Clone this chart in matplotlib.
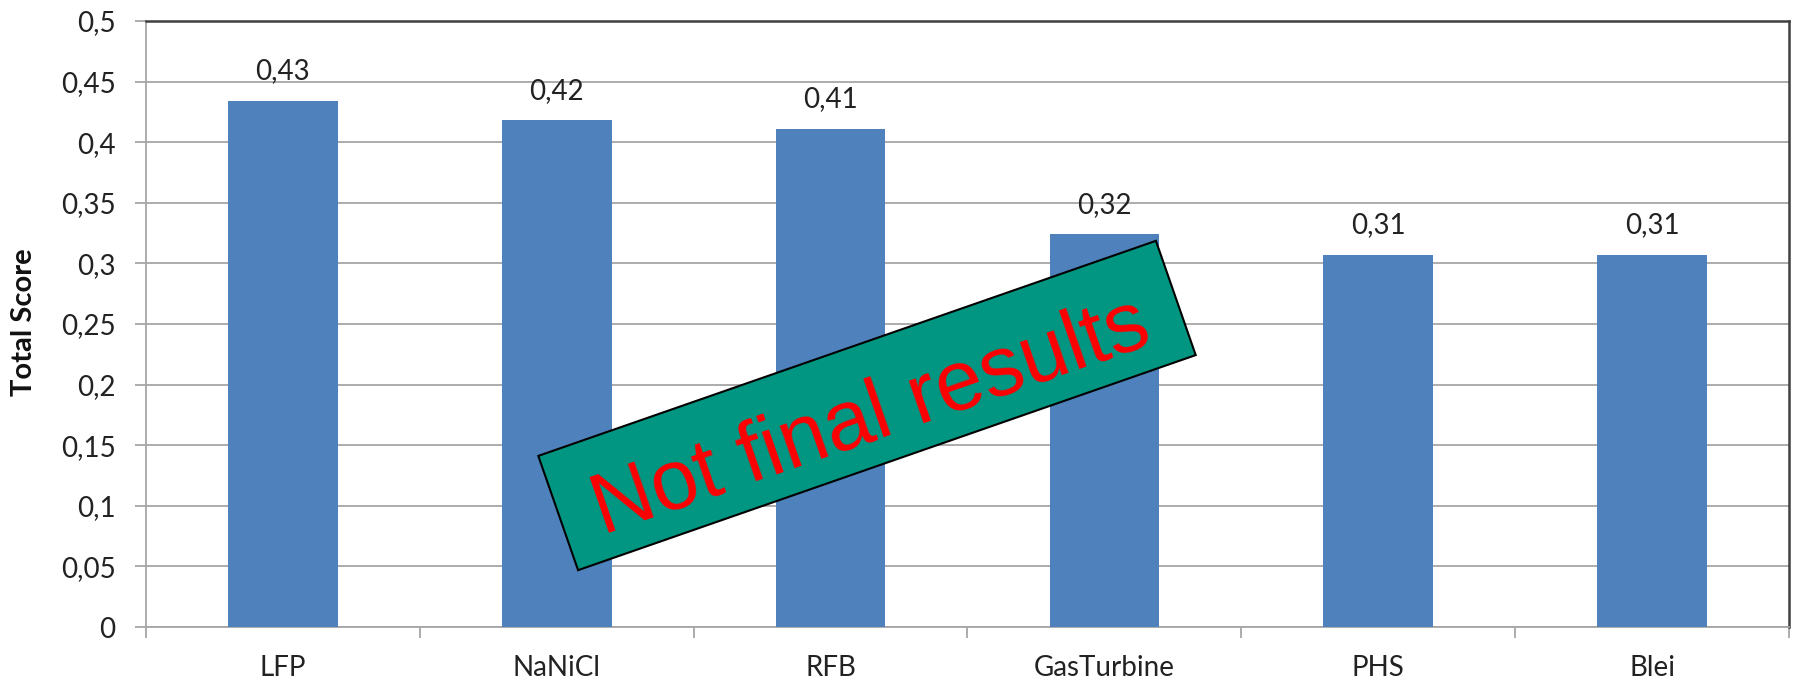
import matplotlib
matplotlib.use("Agg")
import matplotlib.pyplot as plt
import matplotlib.patches as mpatches
import matplotlib.transforms as mtransforms
import numpy as np

categories = ["LFP", "NaNiCl", "RFB", "GasTurbine", "PHS", "Blei"]
scores = [0.434, 0.418, 0.411, 0.324, 0.307, 0.307]
y_ticks = [0, 0.05, 0.1, 0.15, 0.2, 0.25, 0.3, 0.35, 0.4, 0.45, 0.5]
y_label = "Total Score"
stamp_text = "Not final results"

BAR_COLOR = "#4f81bd"
GRID_COLOR = "#a6a6a6"
FONT = ["Lato", "DejaVu Sans"]


def comma(v):
    s = f"{v:g}"
    return s.replace(".", ",")


plt.rcParams["font.family"] = FONT

fig = plt.figure(figsize=(17.93, 6.86), dpi=100)
ax = fig.add_axes([146 / 1793, 1 - 627 / 686, (1789 - 146) / 1793, (627 - 21) / 686])

x = np.arange(len(categories))
ax.bar(x, scores, width=0.40, color=BAR_COLOR, zorder=3)

for xi, v in zip(x, scores):
    ax.annotate(f"{v:.2f}".replace(".", ","), (xi, v), xytext=(0, 12),
                textcoords="offset points", ha="center", va="bottom",
                fontsize=20, color="#222222", zorder=4)

ax.set_xlim(-0.5, len(categories) - 0.5)
ax.set_ylim(0, 0.5)
ax.set_yticks(y_ticks)
ax.set_yticklabels([comma(t) for t in y_ticks])
ax.yaxis.grid(True, color=GRID_COLOR, linewidth=1.3, zorder=0)
ax.set_axisbelow(True)

# category labels centred, tick marks between categories
ax.set_xticks(x)
ax.set_xticklabels(categories)
ax.tick_params(axis="x", which="major", length=0, pad=20, labelsize=20,
               labelcolor="#222222")
ax.set_xticks(np.arange(len(categories) + 1) - 0.5, minor=True)
ax.tick_params(axis="x", which="minor", length=8, width=1.3, color=GRID_COLOR,
               direction="out")
ax.tick_params(axis="y", length=8, width=1.3, color=GRID_COLOR, pad=14,
               labelsize=20, labelcolor="#222222")

for side in ("left", "bottom"):
    ax.spines[side].set_color(GRID_COLOR)
    ax.spines[side].set_linewidth(1.3)
for side in ("top", "right"):
    ax.spines[side].set_color("#404040")
    ax.spines[side].set_linewidth(1.8)

fig.text(24 / 1793, 1 - 322 / 686, y_label, rotation=90, ha="center",
         va="center", fontsize=21, fontweight="bold", color="#111111")

# rotated "draft" stamp across the middle of the chart
cx, cy = 8.67, 6.86 - 4.055
w, h, ang = 6.54, 1.21, 19.2
tr = mtransforms.Affine2D().rotate_deg(ang).translate(cx, cy) + fig.dpi_scale_trans
stamp = mpatches.Rectangle((-w / 2, -h / 2), w, h, facecolor="#009682",
                           edgecolor="black", linewidth=1.5, transform=tr,
                           zorder=10)
fig.add_artist(stamp)
fig.text(cx + 0.043, cy - 0.123, stamp_text, transform=fig.dpi_scale_trans,
         rotation=ang, rotation_mode="anchor", ha="center", va="center",
         fontsize=61, color="#ff0000",
         family=["Liberation Sans", "DejaVu Sans"], zorder=11)

fig.savefig("out.png", dpi=100)
